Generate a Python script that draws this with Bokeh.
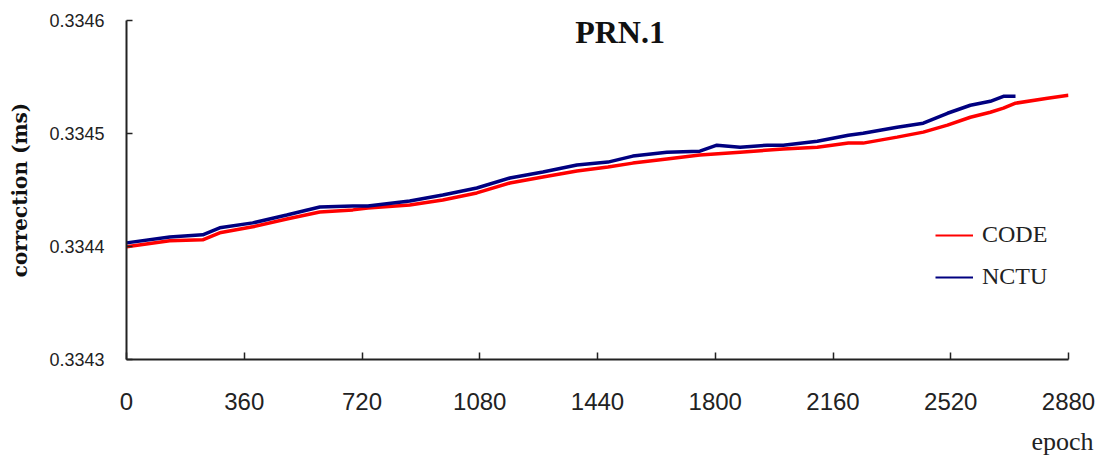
from bokeh.plotting import figure
from bokeh.models import Range1d, FixedTicker, Label, Legend, LegendItem, ColumnDataSource, Title
from bokeh.embed import file_html
from bokeh.resources import INLINE

# ---- data ----
code_epoch = [0, 132, 233, 285, 386, 490, 591, 692, 738, 866, 967, 1071, 1172, 1273, 1377,
              1472, 1548, 1652, 1753, 1876, 2008, 2112, 2207, 2252, 2356, 2436, 2510, 2580,
              2641, 2681, 2718, 2816, 2880]
code_corr = [0.3343997, 0.3344050, 0.3344059, 0.3344121, 0.3344174, 0.3344244, 0.3344306,
             0.3344324, 0.3344341, 0.3344368, 0.3344412, 0.3344474, 0.3344562, 0.3344615,
             0.3344668, 0.3344703, 0.3344738, 0.3344774, 0.3344809, 0.3344835, 0.3344862,
             0.3344879, 0.3344915, 0.3344915, 0.3344968, 0.3345012, 0.3345074, 0.3345144,
             0.3345188, 0.3345224, 0.3345268, 0.3345312, 0.3345338]
nctu_epoch = [0, 132, 233, 285, 386, 490, 591, 692, 738, 866, 967, 1071, 1172, 1273, 1377,
              1472, 1548, 1652, 1753, 1805, 1876, 1959, 2008, 2112, 2207, 2252, 2356, 2436,
              2510, 2580, 2641, 2681, 2718]
nctu_corr = [0.3344032, 0.3344085, 0.3344103, 0.3344165, 0.3344209, 0.3344279, 0.3344350,
             0.3344359, 0.3344359, 0.3344403, 0.3344456, 0.3344518, 0.3344606, 0.3344659,
             0.3344721, 0.3344747, 0.3344800, 0.3344835, 0.3344844, 0.3344897, 0.3344879,
             0.3344897, 0.3344897, 0.3344932, 0.3344985, 0.3345003, 0.3345056, 0.3345091,
             0.3345179, 0.3345250, 0.3345285, 0.3345329, 0.3345329]

x_ticks = [0, 360, 720, 1080, 1440, 1800, 2160, 2520, 2880]
y_ticks = [0.3343, 0.3344, 0.3345, 0.3346]
y_tick_labels = ["0.3343", "0.3344", "0.3345", "0.3346"]
series_names = ["CODE", "NCTU"]
title_text = "PRN.1"
y_title = "correction (ms)"
x_title = "epoch"

RED = "#ff0000"
BLUE = "#000080"

p = figure(width=1098, height=467, output_backend="svg", toolbar_location=None,
           x_range=Range1d(x_ticks[0], x_ticks[-1]), y_range=Range1d(y_ticks[0], y_ticks[-1]),
           min_border_left=126, min_border_right=30, min_border_top=20, min_border_bottom=107)
p.outline_line_color = None
p.xgrid.visible = False
p.ygrid.visible = False
p.background_fill_color = "white"
p.border_fill_color = "white"

# series
p.line(code_epoch, code_corr, line_color=RED, line_width=3.5)
p.line(nctu_epoch, nctu_corr, line_color=BLUE, line_width=3.5)

# axes
xa = p.xaxis[0]
xa.ticker = FixedTicker(ticks=x_ticks)
xa.axis_line_color = "#222222"
xa.axis_line_width = 2
xa.major_tick_in = 7
xa.major_tick_out = 0
xa.major_tick_line_color = "#222222"
xa.major_tick_line_width = 1.5
xa.minor_tick_line_color = None
xa.major_label_standoff = 33
xa.major_label_text_font = "Liberation Sans"
xa.major_label_text_font_size = "24px"
xa.major_label_text_color = "#222222"

ya = p.yaxis[0]
ya.ticker = FixedTicker(ticks=y_ticks)
ya.major_label_overrides = {t: s for t, s in zip(y_ticks, y_tick_labels)}
ya.axis_line_color = "#222222"
ya.axis_line_width = 2
ya.major_tick_in = 6
ya.major_tick_out = 0
ya.major_tick_line_color = "#222222"
ya.major_tick_line_width = 1.5
ya.minor_tick_line_color = None
ya.major_label_standoff = 22
ya.major_label_text_font = "Liberation Sans"
ya.major_label_text_font_size = "18px"
ya.major_label_text_color = "#222222"
ya.axis_label = y_title
ya.axis_label_text_font = "DejaVu Serif"
ya.axis_label_text_font_style = "bold"
ya.axis_label_text_font_size = "20px"
ya.axis_label_standoff = 14
ya.axis_label_text_color = "#111111"

# title inside the plot
p.add_layout(Label(x=1509, y=0.3345902, text=title_text, text_align="center",
                   text_baseline="middle", text_font="Liberation Serif",
                   text_font_style="bold", text_font_size="32px", text_color="#111111"))
# x axis title at the lower right
p.add_layout(Title(text=x_title, align="right", offset=-25, standoff=24,
                   text_font="Liberation Serif", text_font_style="normal",
                   text_font_size="26px", text_color="#222222"), "below")

# legend with thin lines
nan = float("nan")
src_dummy = ColumnDataSource(dict(x=[nan], y=[nan]))
lr = p.line("x", "y", source=src_dummy, line_color=RED, line_width=2)
lb = p.line("x", "y", source=src_dummy, line_color=BLUE, line_width=2)
legend = Legend(items=[LegendItem(label=series_names[0], renderers=[lr]),
                       LegendItem(label=series_names[1], renderers=[lb])],
                location=(809, 69), orientation="vertical",
                glyph_width=38, glyph_height=20, label_height=20, label_standoff=9,
                spacing=15, padding=0, margin=0,
                border_line_color=None, background_fill_alpha=0,
                label_text_font="Liberation Serif", label_text_font_size="24px",
                label_text_color="#222222")
p.add_layout(legend)

open("out.html", "w").write(file_html(p, INLINE))
